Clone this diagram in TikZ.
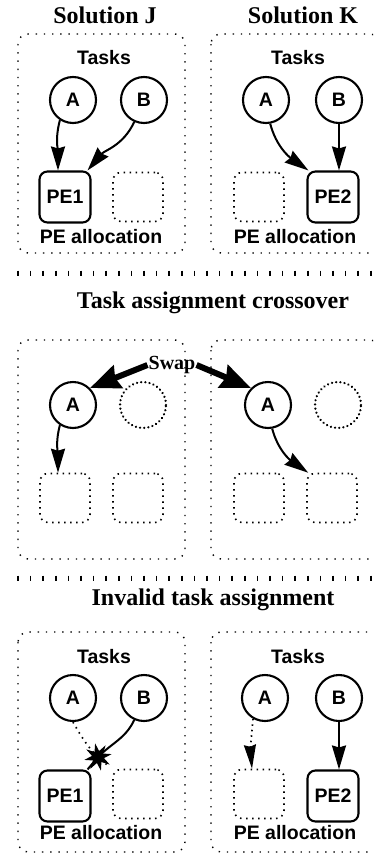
\documentclass[tikz,border=0pt]{standalone}
\usepackage{fontspec}
\setmainfont{Liberation Serif}
\setsansfont{Liberation Sans}
\usetikzlibrary{arrows.meta,shapes.geometric,calc}

\tikzset{
  ttl/.style={font=\fontsize{24}{28}\selectfont\bfseries},
  swaptxt/.style={font=\fontsize{20}{24}\selectfont\bfseries, inner sep=1pt},
  lbl/.style={font=\fontsize{19.5}{22}\selectfont\sffamily\bfseries, inner sep=0pt},
  task/.style={circle, draw, line width=2.1pt, minimum size=46pt, inner sep=0pt,
    font=\fontsize{19.5}{22}\selectfont\sffamily\bfseries},
  pe/.style={rectangle, rounded corners=8pt, draw, line width=2.1pt,
    minimum width=51pt, minimum height=51pt, inner sep=0pt,
    font=\fontsize{19.5}{22}\selectfont\sffamily\bfseries},
  slot/.style={rectangle, rounded corners=8pt, draw, line width=1.6pt,
    dash pattern=on 1.5pt off 4.5pt, minimum width=50pt, minimum height=49pt},
  ghost/.style={circle, draw, line width=2.5pt, dash pattern=on 0.01pt off 4.2pt,
    line cap=round, minimum size=46pt, inner sep=0pt},
  frame/.style={draw, line width=1.4pt, rounded corners=10pt,
    dash pattern=on 1.4pt off 6.8pt},
  tick/.style={line width=1.5pt},
  link/.style={line width=2pt, -{Stealth[length=24pt,width=14pt,inset=2pt]}},
  weaklink/.style={line width=1.7pt, dash pattern=on 1.5pt off 4pt,
    -{Stealth[length=24pt,width=12pt,inset=2pt]}},
  swaplink/.style={line width=6pt, -{Stealth[length=30pt,width=24pt,inset=3pt]}},
  hit/.style={star, star points=8, star point ratio=2.3, fill, draw=none,
    minimum size=28pt, inner sep=0pt},
}

\begin{document}
\begin{tikzpicture}[x=1pt,y=1pt]
\useasboundingbox (0,0) rectangle (373,-854);
\clip (0,0) rectangle (373,-854);

% ---------- Solutions J and K ----------
\node[ttl] (tJ) at (105,-15) {Solution J};
\node[ttl] (tK) at (303,-15) {Solution K};
\draw[frame] (18,-34) rectangle (185,-253);
\draw[frame] (211,-34) rectangle (380,-253);

\node[lbl] (tasksJ) at (104,-58) {Tasks};
\node[lbl] (tasksK) at (298,-58) {Tasks};
\node[task] (AJ) at (73,-100) {A};
\node[task] (BJ) at (144,-100) {B};
\node[task] (AK) at (266,-100) {A};
\node[task] (BK) at (339,-100) {B};
\node[pe] (PE1) at (65,-197) {PE1};
\node[slot] (sJ) at (138,-197) {};
\node[slot] (sK) at (259,-197) {};
\node[pe] (PE2) at (333,-197) {PE2};
\node[lbl] (allocJ) at (101,-237) {PE allocation};
\node[lbl] (allocK) at (295,-237) {PE allocation};

\draw[link] (AJ.237) to[out=-105,in=90] ($(PE1.north)+(-7,0)$);
\draw[link] (BJ.246) to[out=-115,in=50] ($(PE1.north east)+(-4,0)$);
\draw[link] (AK.-80) to[out=-75,in=145] ($(PE2.north west)+(2,0)$);
\draw[link] (BK.south) -- (BK.south |- PE2.north);

% ---------- separator ----------
\foreach \i in {0,...,28} \draw[tick] ({18+12.6*\i},-270.5) -- ++(0,-5);

% ---------- crossover ----------
\node[ttl] (tC) at (213,-303) {Task assignment crossover};
\draw[frame] (18,-340) rectangle (185,-559);
\draw[frame] (211,-340) rectangle (380,-559);

\node[swaptxt] (swap) at (172,-365) {Swap};
\node[task] (AC1) at (73,-405) {A};
\node[ghost] (gC1) at (143,-405) {};
\node[task] (AC2) at (268,-405) {A};
\node[ghost] (gC2) at (338,-405) {};
\node[slot] (c1) at (65,-498) {};
\node[slot] (c2) at (138,-498) {};
\node[slot] (c3) at (259,-498) {};
\node[slot] (c4) at (332,-498) {};

\draw[swaplink] (swap.west) -- (AC1.45);
\draw[swaplink] (swap.east) -- (AC2.135);
\draw[link] (AC1.237) to[out=-105,in=90] ($(c1.north)+(-7,0)$);
\draw[link] (AC2.-80) to[out=-75,in=145] ($(c4.north west)+(2,0)$);

% ---------- separator ----------
\foreach \i in {0,...,28} \draw[tick] ({18+12.6*\i},-575.5) -- ++(0,-5);

% ---------- invalid assignment ----------
\node[ttl] (tI) at (213,-600) {Invalid task assignment};
\draw[frame] (18,-632) rectangle (185,-852);
\draw[frame] (211,-632) rectangle (380,-852);

\node[lbl] (tasksI1) at (104,-657) {Tasks};
\node[lbl] (tasksI2) at (298,-657) {Tasks};
\node[task] (AI1) at (73,-698) {A};
\node[task] (BI1) at (144,-698) {B};
\node[task] (AI2) at (265,-698) {A};
\node[task] (BI2) at (339,-698) {B};
\node[pe] (PE1b) at (65,-796) {PE1};
\node[slot] (i1) at (138,-794) {};
\node[slot] (i2) at (259,-794) {};
\node[pe] (PE2b) at (333,-796) {PE2};
\node[lbl] (allocI1) at (101,-833) {PE allocation};
\node[lbl] (allocI2) at (295,-833) {PE allocation};

\coordinate (clash) at (98,-757);
\draw[line width=1.7pt, dash pattern=on 1.5pt off 4.4pt]
  (AI1.270) to[out=-60,in=135] (clash) -- ($(i1.north west)+(-3,2)$);
\draw[line width=2pt] (BI1.246) to[out=-115,in=45] (clash)
  -- ($(PE1b.north east)+(-4,0)$);
\node[hit, rotate=12] (star) at (clash) {};

\draw[weaklink] (AI2.240) to[out=-95,in=95] ($(i2.north)+(-7,0)$);
\draw[link] (BI2.south) -- (BI2.south |- PE2b.north);

\end{tikzpicture}
\end{document}
